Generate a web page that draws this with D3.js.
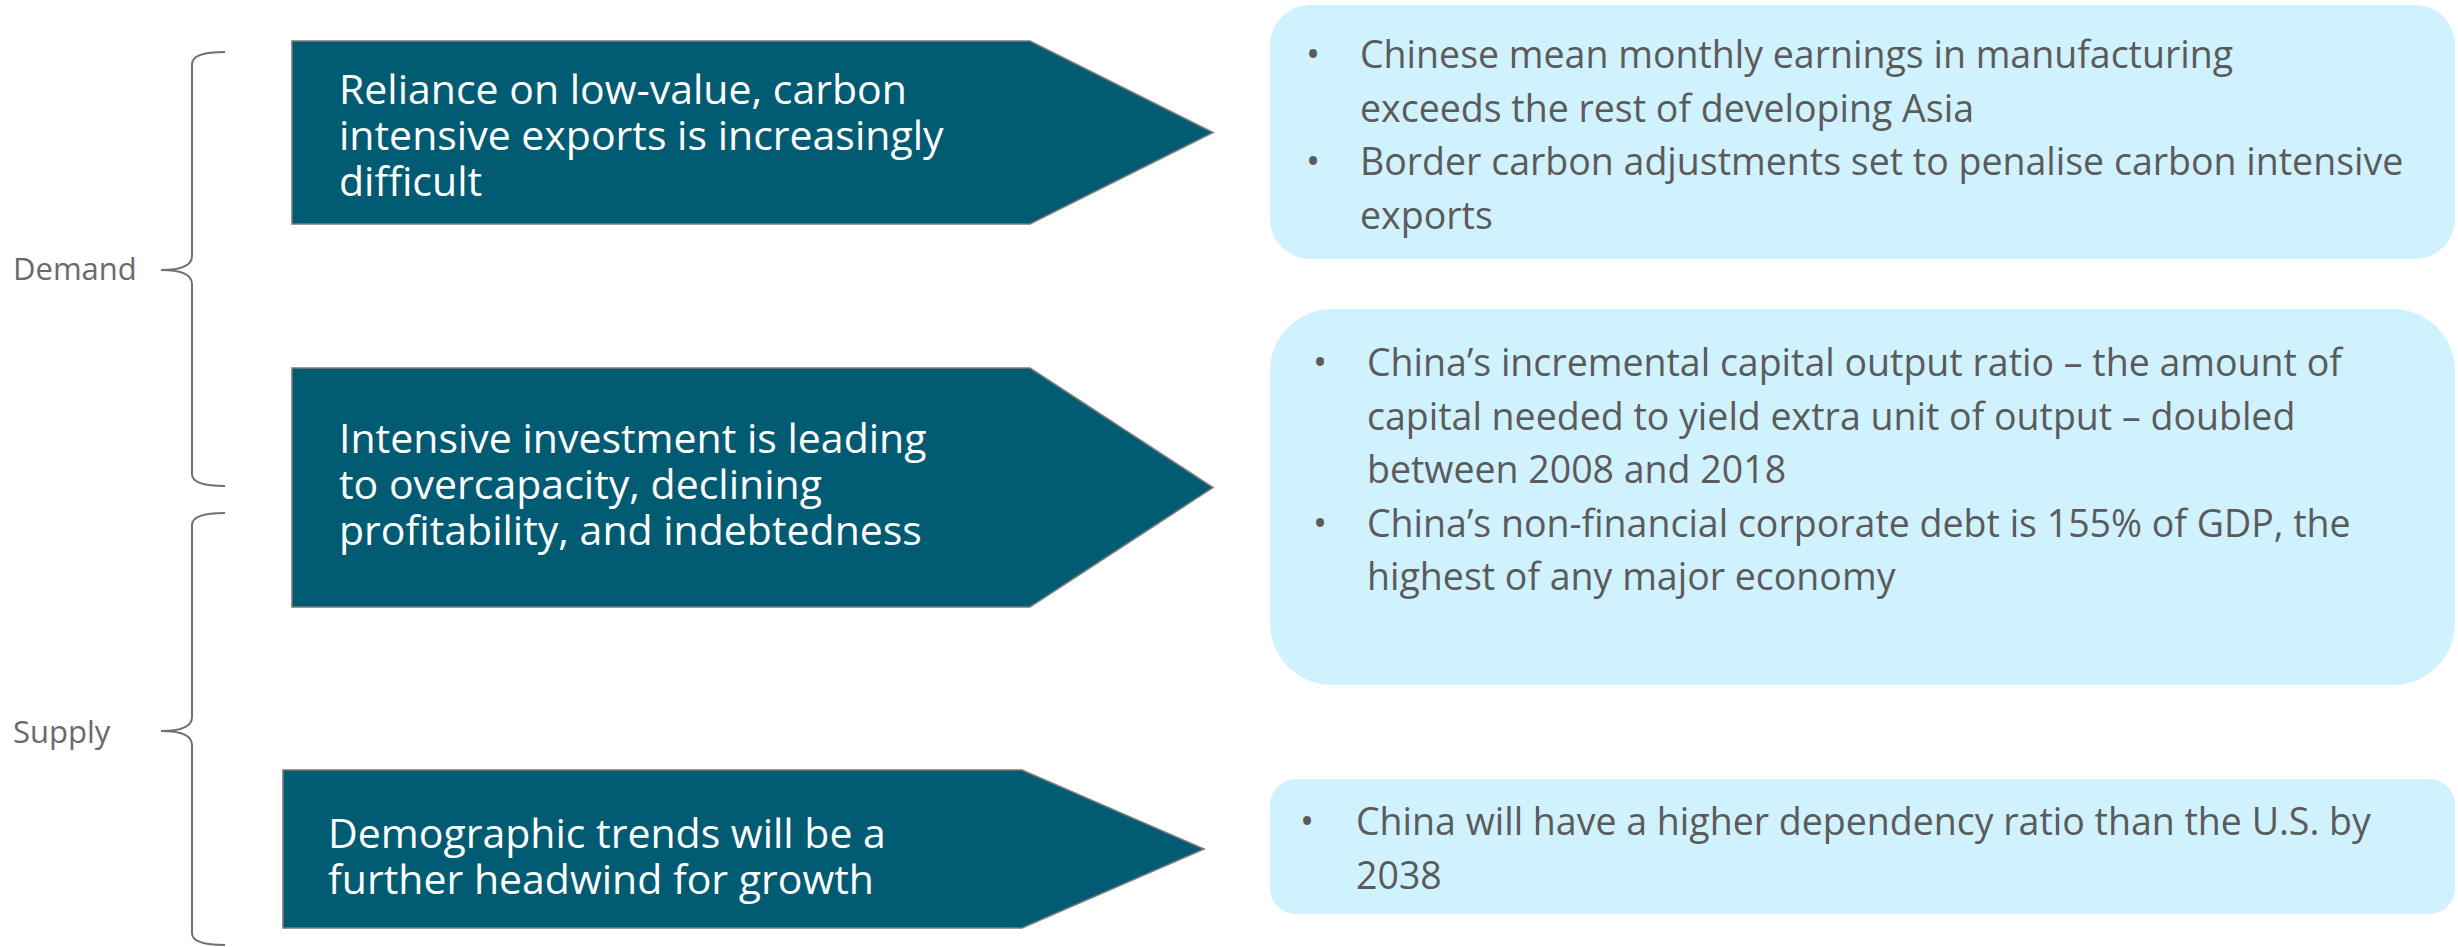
<!DOCTYPE html>
<html>
<head>
<meta charset="utf-8">
<script src="https://cdn.jsdelivr.net/npm/d3@7/dist/d3.min.js"></script>
<style>
  html, body { margin: 0; padding: 0; background: #ffffff; }
  svg { display: block; }
</style>
</head>
<body>
<svg id="chart" width="2458" height="947"></svg>
<script>
// ---- Content -------------------------------------------------------------
const groups = ["Demand", "Supply"];

const drivers = [
  ["Reliance on low-value, carbon", "intensive exports is increasingly", "difficult"],
  ["Intensive investment is leading", "to overcapacity, declining", "profitability, and indebtedness"],
  ["Demographic trends will be a", "further headwind for growth"]
];

// each entry: list of bullets, each bullet is a list of wrapped lines
const evidence = [
  [
    ["Chinese mean monthly earnings in manufacturing", "exceeds the rest of developing Asia"],
    ["Border carbon adjustments set to penalise carbon intensive", "exports"]
  ],
  [
    ["China\u2019s incremental capital output ratio \u2013 the amount of", "capital needed to yield extra unit of output \u2013 doubled", "between 2008 and 2018"],
    ["China\u2019s non-financial corporate debt is 155% of GDP, the", "highest of any major economy"]
  ],
  [
    ["China will have a higher dependency ratio than the U.S. by", "2038"]
  ]
];

// ---- Layout --------------------------------------------------------------
const arrowLayout = [
  { x0: 292, shoulder: 1030, tip: 1213, y0: 41,  y1: 224, tx: 339, ty: 104 },
  { x0: 292, shoulder: 1030, tip: 1213, y0: 368, y1: 607, tx: 339, ty: 453 },
  { x0: 283, shoulder: 1022, tip: 1204, y0: 770, y1: 928, tx: 328, ty: 848 }
];
const arrowLine = 46;

const boxLayout = [
  { x0: 1270, x1: 2455, y0: 5,   y1: 259, r: 40, bx: 1306, tx: 1360, ty: 68 },
  { x0: 1270, x1: 2455, y0: 309, y1: 685, r: 62, bx: 1313, tx: 1367, ty: 376 },
  { x0: 1270, x1: 2455, y0: 779, y1: 914, r: 26, bx: 1300, tx: 1356, ty: 835 }
];
const boxLine = 53.5;

const braceLayout = [
  { top: 52,  mid: 270, bottom: 486, lx: 13, ly: 280 },
  { top: 513, mid: 731, bottom: 945, lx: 13, ly: 743 }
];
const brace = { x: 192, hook: 225, point: 161 };

const FONT = "'Open Sans', 'Noto Sans', Arial, sans-serif";
const colors = {
  arrow: "#015b73",
  arrowStroke: "#7b7b7b",
  box: "#cff2fe",
  bodyText: "#5b5b5b",
  label: "#6a6a6a",
  brace: "#707070"
};

const svg = d3.select("#chart");

// ---- Brackets with group labels -----------------------------------------
const braceG = svg.append("g").attr("class", "braces");
braceLayout.forEach((b, i) => {
  const r = 12, t = 14;
  const p = d3.path();
  p.moveTo(brace.hook, b.top);
  p.quadraticCurveTo(brace.x, b.top, brace.x, b.top + r);
  p.lineTo(brace.x, b.mid - t);
  p.quadraticCurveTo(brace.x, b.mid, brace.point, b.mid);
  p.quadraticCurveTo(brace.x, b.mid, brace.x, b.mid + t);
  p.lineTo(brace.x, b.bottom - r);
  p.quadraticCurveTo(brace.x, b.bottom, brace.hook, b.bottom);
  braceG.append("path")
    .attr("d", p.toString())
    .attr("fill", "none")
    .attr("stroke", colors.brace)
    .attr("stroke-width", 2);
  braceG.append("text")
    .attr("x", b.lx)
    .attr("y", b.ly)
    .attr("font-family", FONT)
    .attr("font-size", 31)
    .attr("fill", colors.label)
    .text(groups[i]);
});

// ---- Driver arrows -------------------------------------------------------
const arrowG = svg.append("g").attr("class", "arrows")
  .selectAll("g").data(drivers).join("g");

arrowG.append("path")
  .attr("d", (d, i) => {
    const a = arrowLayout[i];
    const p = d3.path();
    p.moveTo(a.x0, a.y0);
    p.lineTo(a.shoulder, a.y0);
    p.lineTo(a.tip, (a.y0 + a.y1) / 2);
    p.lineTo(a.shoulder, a.y1);
    p.lineTo(a.x0, a.y1);
    p.closePath();
    return p.toString();
  })
  .attr("fill", colors.arrow)
  .attr("stroke", colors.arrowStroke)
  .attr("stroke-width", 1.6);

arrowG.append("text")
  .attr("font-family", FONT)
  .attr("font-size", 41)
  .attr("fill", "#ffffff")
  .each(function (d, i) {
    const a = arrowLayout[i];
    d3.select(this).selectAll("tspan").data(d).join("tspan")
      .attr("x", a.tx)
      .attr("y", (line, j) => a.ty + j * arrowLine)
      .text(line => line);
  });

// ---- Evidence boxes ------------------------------------------------------
const boxG = svg.append("g").attr("class", "boxes")
  .selectAll("g").data(evidence).join("g");

boxG.append("rect")
  .attr("x", (d, i) => boxLayout[i].x0)
  .attr("y", (d, i) => boxLayout[i].y0)
  .attr("width", (d, i) => boxLayout[i].x1 - boxLayout[i].x0)
  .attr("height", (d, i) => boxLayout[i].y1 - boxLayout[i].y0)
  .attr("rx", (d, i) => boxLayout[i].r)
  .attr("ry", (d, i) => boxLayout[i].r)
  .attr("fill", colors.box);

boxG.each(function (bullets, i) {
  const b = boxLayout[i];
  const g = d3.select(this);
  let row = 0;
  bullets.forEach(lines => {
    g.append("text")
      .attr("x", b.bx)
      .attr("y", b.ty + row * boxLine)
      .attr("font-family", FONT)
      .attr("font-size", 37.5)
      .attr("fill", colors.bodyText)
      .text("\u2022");
    lines.forEach(line => {
      g.append("text")
        .attr("x", b.tx)
        .attr("y", b.ty + row * boxLine)
        .attr("font-family", FONT)
        .attr("font-size", 37.5)
        .attr("fill", colors.bodyText)
        .text(line);
      row += 1;
    });
  });
});
</script>
</body>
</html>
